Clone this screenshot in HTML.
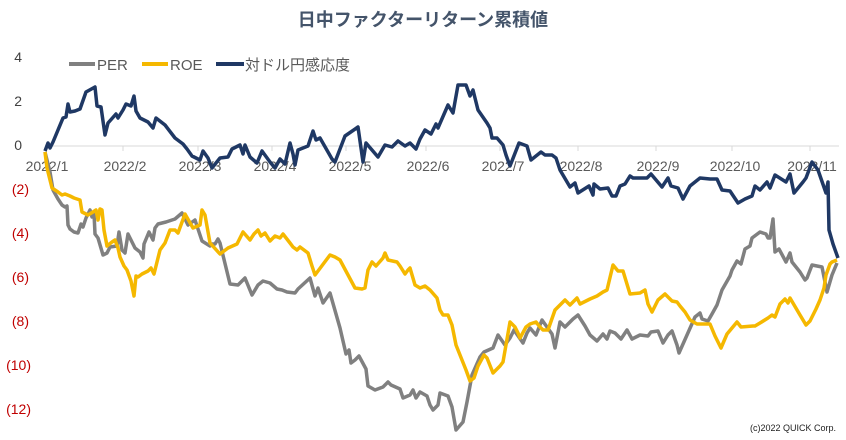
<!DOCTYPE html>
<html><head><meta charset="utf-8"><style>
body{margin:0;background:#fff;width:846px;height:435px;overflow:hidden}
svg text{font-family:"Liberation Sans","Noto Sans CJK JP",sans-serif}
</style></head><body>
<svg width="846" height="435" viewBox="0 0 846 435" xmlns="http://www.w3.org/2000/svg">
<text x="423" y="26" text-anchor="middle" font-size="18" font-weight="bold" fill="#44546a">日中ファクターリターン累積値</text>
<g font-size="14" fill="#404040">
<text x="22" y="62" text-anchor="end">4</text>
<text x="22" y="106" text-anchor="end">2</text>
<text x="22" y="150" text-anchor="end">0</text>
</g>
<g font-size="14" fill="#c00000" text-anchor="end">
<text x="29" y="194">(2)</text><text x="29" y="238">(4)</text><text x="29" y="282">(6)</text>
<text x="29" y="326">(8)</text><text x="31" y="370">(10)</text><text x="31" y="414">(12)</text>
</g>
<line x1="45" y1="146" x2="839" y2="146" stroke="#d9d9d9" stroke-width="1"/>
<g stroke="#d9d9d9"><line x1="123" y1="146" x2="123" y2="151"/><line x1="198" y1="146" x2="198" y2="151"/><line x1="272" y1="146" x2="272" y2="151"/><line x1="346" y1="146" x2="346" y2="151"/><line x1="426" y1="146" x2="426" y2="151"/><line x1="500" y1="146" x2="500" y2="151"/><line x1="578" y1="146" x2="578" y2="151"/><line x1="656" y1="146" x2="656" y2="151"/><line x1="732" y1="146" x2="732" y2="151"/><line x1="810" y1="146" x2="810" y2="151"/></g>
<g font-size="14" fill="#595959" text-anchor="middle">
<text x="47" y="171">2022/1</text><text x="125" y="171">2022/2</text><text x="200" y="171">2022/3</text><text x="275" y="171">2022/4</text><text x="350" y="171">2022/5</text><text x="428" y="171">2022/6</text><text x="503" y="171">2022/7</text><text x="581" y="171">2022/8</text><text x="658" y="171">2022/9</text><text x="735" y="171">2022/10</text><text x="812" y="171">2022/11</text>
</g>
<g fill="none" stroke-width="3.5" stroke-linejoin="round">
<polyline stroke="#808080" points="45,152 47,160 50,172 53,190 58,199 62,205 65,207 67,206 68,225 70,229 74,232 78,233 81,224 83,227 86,218 90,210 92,217 94,213 95,234 98,238 103,255 107,253 110,247 117,246 119,232 122,250 125,253 128,234 135,248 140,252 143,258 144,244 149,232 153,240 155,228 158,224 166,222 175,219 182,213 188,225 195,220 202,241 210,246 212,244 215,244 218,239 220,243 230,284 238,285 245,278 252,295 258,285 263,281 270,283 277,289 282,290 287,292 295,293 298,289 310,278 315,296 318,288 323,303 330,293 340,328 346,354 349,350 351,363 355,360 359,356 366,369 368,386 375,390 383,387 388,382 391,385 400,389 403,398 410,395 413,390 416,398 420,392 427,396 430,405 433,410 438,405 440,393 448,396 452,407 456,430 463,422 467,402 472,375 480,357 484,352 493,348 498,335 505,345 510,338 514,330 523,343 527,333 530,328 536,335 542,320 552,334 555,348 560,322 565,327 573,319 578,315 585,326 590,335 597,341 603,334 607,339 610,331 615,333 621,339 627,330 632,339 640,335 648,336 651,332 658,331 663,343 668,335 672,331 677,345 679,353 687,335 695,317 700,313 702,319 708,321 712,314 717,305 722,290 730,276 732,270 737,261 741,264 745,249 750,246 752,238 760,232 766,234 768,238 770,238 773,219 775,252 779,249 786,262 790,253 792,262 800,272 805,280 807,278 812,265 822,267 827,292 832,275 837,263"/>
<polyline stroke="#f5b800" points="45,152 47,168 52,188 58,192 62,195 65,194 70,196 74,198 80,200 82,212 88,215 93,212 96,210 98,220 100,209 102,210 104,230 107,246 112,242 115,240 118,248 120,257 124,266 127,270 131,281 134,296 136,276 138,277 142,274 148,271 151,268 154,274 157,262 160,250 165,243 170,230 175,230 178,233 185,214 193,228 200,225 202,210 205,215 210,243 220,254 228,248 237,244 243,232 250,240 254,234 258,230 261,236 265,233 270,241 275,236 280,238 283,234 290,243 293,247 297,250 300,247 308,253 312,266 315,275 318,271 330,255 335,257 340,260 355,288 362,289 365,288 368,270 372,262 376,266 383,258 385,253 388,260 397,262 400,266 405,274 408,270 410,268 415,285 420,288 425,286 430,290 437,298 440,310 443,315 448,315 452,325 456,345 462,360 466,370 470,381 474,378 478,366 484,355 487,358 493,373 500,366 503,362 510,322 515,327 518,333 520,338 526,327 530,324 536,322 540,327 543,330 548,330 555,310 565,300 570,305 577,298 580,304 590,299 597,296 603,292 607,290 613,265 618,271 623,271 630,294 640,293 645,290 648,304 652,312 658,300 665,294 672,301 677,302 680,306 685,312 690,320 697,324 702,324 710,324 715,336 721,348 727,334 732,328 737,322 741,327 753,326 755,326 760,323 768,318 772,315 775,317 780,304 785,299 788,303 790,298 800,315 806,325 810,321 816,309 820,300 824,288 826,275 830,264 832,262 837,260"/>
<polyline stroke="#1f3864" points="45,151 48,143 50,148 53,142 58,130 63,118 66,117 68,104 70,112 75,111 80,109 86,92 95,87 97,106 101,107 105,135 108,123 116,114 118,118 123,110 126,104 131,106 134,96 136,111 140,118 148,122 153,128 156,118 165,125 175,138 183,144 187,149 192,156 200,160 203,151 208,158 212,168 220,158 228,157 232,149 240,145 243,154 245,145 250,157 257,163 262,151 270,162 275,168 280,159 285,164 290,143 293,154 295,165 298,150 308,146 313,131 316,140 320,138 332,159 335,162 345,136 358,127 363,162 366,143 378,157 385,145 392,147 398,141 405,146 410,143 416,149 420,139 425,130 431,134 436,124 438,128 448,105 453,113 458,85 466,85 470,96 473,90 478,110 487,123 490,128 492,138 497,138 503,145 506,155 510,166 519,143 527,146 531,160 541,152 545,155 552,155 556,158 560,170 570,187 575,183 578,193 589,186 593,195 594,184 600,189 608,188 612,196 616,196 620,186 625,184 630,176 633,178 647,178 651,174 662,187 668,178 671,186 678,188 683,199 690,186 700,178 710,179 717,179 722,190 730,191 738,203 745,199 752,196 755,186 760,190 767,182 770,188 775,175 786,182 790,174 794,193 803,182 806,178 812,162 818,170 826,193 828,182 829,230 833,244 838,258"/>
</g>
<g font-size="15" fill="#595959">
<line x1="69" y1="64" x2="95" y2="64" stroke="#808080" stroke-width="4"/><text x="97" y="70">PER</text>
<line x1="142" y1="64" x2="168" y2="64" stroke="#f5b800" stroke-width="4"/><text x="170" y="70">ROE</text>
<line x1="216" y1="64" x2="244" y2="64" stroke="#1f3864" stroke-width="4"/><text x="245" y="70">対ドル円感応度</text>
</g>
<text x="836" y="431" text-anchor="end" font-size="9" fill="#222">(c)2022 QUICK Corp.</text>
</svg>
</body></html>
